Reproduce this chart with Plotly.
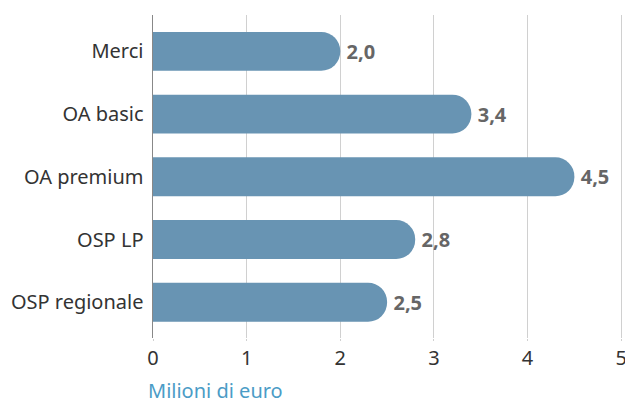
import plotly.graph_objects as go

categories = ["Merci", "OA basic", "OA premium", "OSP LP", "OSP regionale"]
values = [2.0, 3.4, 4.5, 2.8, 2.5]
x_ticks = [0, 1, 2, 3, 4, 5]
x_title = "Milioni di euro"

FONT = "Noto Sans"

fig = go.Figure(go.Bar(
    y=categories,
    x=values,
    orientation="h",
    marker=dict(color="#6894b3", line=dict(width=0)),
    width=0.62,
    texttemplate="\u2009<b>%{x:.1f}</b>",
    textposition="outside",
    textfont=dict(family=FONT, size=20, color="#666666"),
    cliponaxis=False,
    hoverinfo="skip",
))

fig.update_layout(
    width=625, height=400,
    margin=dict(l=153, r=1, t=15, b=62),
    paper_bgcolor="white", plot_bgcolor="white",
    separators=",.",
    barcornerradius="50%",
    showlegend=False,
    font=dict(family=FONT, color="#333333"),
    annotations=[dict(
        text=x_title, xref="paper", yref="paper", x=0, y=0,
        xanchor="left", yanchor="top", xshift=-7, yshift=-37,
        showarrow=False, font=dict(family=FONT, size=20, color="#4b9cc6"),
    )],
)
fig.update_xaxes(
    range=[0, 5.03], tickvals=x_ticks, ticktext=[str(t) for t in x_ticks],
    showgrid=True, gridcolor="#d0d0d0", gridwidth=1,
    zeroline=False, showline=False,
    ticks="outside", ticklen=2, tickcolor="#d0d0d0",
    tickfont=dict(family=FONT, size=20, color="#333333"),
    ticklabeloverflow="allow",
    automargin=False, fixedrange=True,
)
fig.update_yaxes(
    categoryorder="array", categoryarray=categories, autorange=False,
    range=[4.57, -0.58],
    showline=True, linecolor="#888888", linewidth=1.5,
    ticks="outside", ticklen=4, tickcolor="rgba(0,0,0,0)",
    tickfont=dict(family=FONT, size=20, color="#333333"),
    showgrid=False, automargin=False, fixedrange=True,
)

fig.write_html(
    "out.html",
    config={"displayModeBar": False, "staticPlot": True},
    post_script="document.body.style.margin='0';"
                "document.documentElement.style.overflow='hidden';",
)
